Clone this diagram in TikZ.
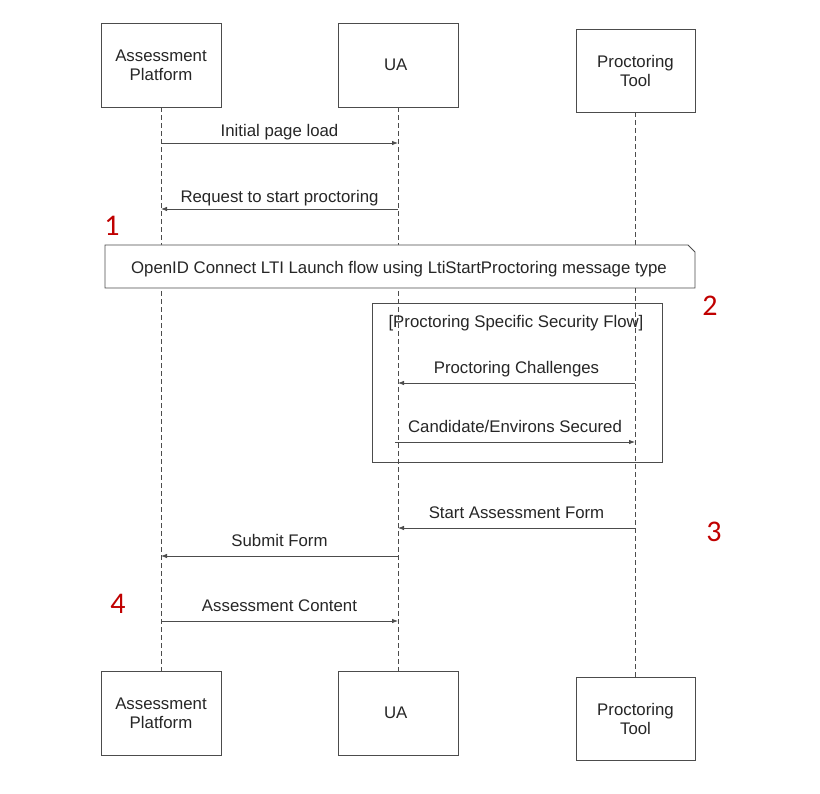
\documentclass[tikz,border=0pt]{standalone}
\usepackage{fontspec}
\setmainfont{Liberation Sans}
\newfontfamily\numfont{Carlito}
\usetikzlibrary{arrows.meta}

\definecolor{linegray}{gray}{0.3}
\definecolor{stepred}{RGB}{192,0,0}

\tikzset{
  actor/.style={draw=linegray, line width=0.9pt, fill=white, minimum width=120pt, minimum height=84pt,
    align=center, font=\fontsize{16.8}{19}\selectfont, text=black!85},
  lifeline/.style={draw=linegray, line width=0.8pt, dash pattern=on 5pt off 3pt},
  msg/.style={draw=linegray, line width=0.8pt, -{Latex[length=6pt,width=4.5pt]}},
  msglabel/.style={font=\fontsize{16.8}{19}\selectfont, text=black!85, inner sep=0pt},
  above msg/.style={msglabel, midway, anchor=base, yshift=9.5pt},
  stepnum/.style={font=\numfont\fontsize{30}{30}\selectfont, text=stepred}
}

\begin{document}
\begin{tikzpicture}[x=1pt, y=-1pt]
  \useasboundingbox (0,0) rectangle (820,794);

  % actors
  \node [actor] (ap) at (161,65) { Assessment\\Platform };
  \node [actor] (ua) at (398,65) { UA };
  \node [actor, minimum width=119pt, minimum height=83pt] (pt) at (635.5,70.5) { Proctoring\\Tool };

  \node [actor] (apb) at (161,713) { Assessment\\Platform };
  \node [actor] (uab) at (398,713) { UA };
  \node [actor, minimum width=119pt, minimum height=83pt] (ptb) at (635.5,719) { Proctoring\\Tool };

  % lifelines
  \draw [lifeline] (ap) -- (apb);
  \draw [lifeline] (ua) -- (uab);
  \draw [lifeline] (pt) -- (ptb);

  % points on the lifelines
  \coordinate (ap1) at (161,143);  \coordinate (ua1) at (398,143);
  \coordinate (ap2) at (161,209);  \coordinate (ua2) at (398,209);
  \coordinate (ua3) at (398,383);  \coordinate (pt3) at (635,383);
  \coordinate (ua4) at (395,442);  \coordinate (pt4) at (635,442);
  \coordinate (ua5) at (398,528);  \coordinate (pt5) at (635,528);
  \coordinate (ap6) at (161,556);  \coordinate (ua6) at (398,556);
  \coordinate (ap7) at (161,621);  \coordinate (ua7) at (398,621);

  % messages
  \draw [msg] (ap1) -- (ua1) node [above msg, yshift=-3.5pt] { Initial page load };
  \draw [msg] (ua2) -- (ap2) node [above msg, yshift=-3.5pt] { Request to start proctoring };

  % launch note
  \draw [draw=linegray, line width=0.9pt, fill=white] (105,245) -- (688,245) -- (695,252) -- (695,288) -- (105,288) -- cycle;
  \node [msglabel] (launch) at (399,269) { OpenID Connect LTI Launch flow using LtiStartProctoring message type };

  % security frame
  \draw [draw=linegray, line width=0.9pt] (372,303) rectangle (662,462);
  \node [msglabel] (frame) at (516,323) { [Proctoring Specific Security Flow] };

  \draw [msg] (pt3) -- (ua3) node [above msg] { Proctoring Challenges };
  \draw [msg] (ua4) -- (pt4) node [above msg] { Candidate/Environs Secured };

  \draw [msg] (pt5) -- (ua5) node [above msg] { Start Assessment Form };
  \draw [msg] (ua6) -- (ap6) node [above msg] { Submit Form };
  \draw [msg] (ap7) -- (ua7) node [above msg] { Assessment Content };

  % step numbers
  \node [stepnum] (s1) at (112,226) { 1 };
  \node [stepnum] (s2) at (710,306) { 2 };
  \node [stepnum] (s3) at (714,532) { 3 };
  \node [stepnum] (s4) at (118,604) { 4 };
\end{tikzpicture}
\end{document}
